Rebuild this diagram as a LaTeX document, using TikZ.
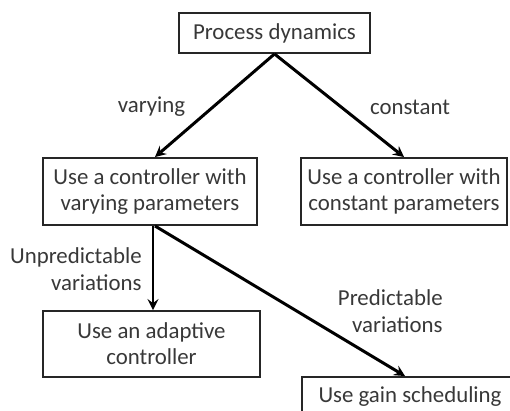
\documentclass[tikz,border=0pt]{standalone}
\usepackage{fontspec}
\setmainfont{Carlito}
\definecolor{txtgray}{HTML}{383838}

\begin{document}
\begin{tikzpicture}[
    box/.style={draw=black!85, line width=1.1pt, text=txtgray, align=center,
        inner sep=0pt, font=\fontsize{13}{14.8}\selectfont},
    lbl/.style={text=txtgray, inner sep=0pt, font=\fontsize{13}{15.5}\selectfont},
    arr/.style={line width=1.7pt, ->, >=stealth}
]
    \useasboundingbox (0,0) rectangle (10.2,-8.2);

    \node[box, minimum width=3.82cm, minimum height=0.8cm] (dyn) at (5.49,-0.66) {Process dynamics};

    \node[box, minimum width=4.28cm, minimum height=1.34cm] (vary) at (3.0,-3.83) {Use a controller with\\varying parameters};
    \node[box, minimum width=4.12cm, minimum height=1.34cm] (const) at (8.08,-3.83) {Use a controller with\\constant parameters};

    \node[box, minimum width=4.34cm, minimum height=1.32cm] (adapt) at (3.03,-6.88) {Use an adaptive\\controller};
    \node[box, minimum width=4.32cm, minimum height=0.8cm] (gain) at (8.2,-7.94) {Use gain scheduling};

    \node[lbl] (lvary) at (3.03,-2.14) {varying};
    \node[lbl] (lconst) at (8.2,-2.14) {constant};
    \node[lbl, align=right, anchor=east] (lunpred) at (2.84,-5.38) {Unpredictable\\variations};
    \node[lbl, align=right, anchor=east] (lpred) at (8.86,-6.23) {Predictable\\variations};

    \draw[arr] (dyn.south) -- ([xshift=0.1cm]vary.north);
    \draw[arr] (dyn.south) -- (const.north);

    \draw[arr] ([xshift=0.06cm]vary.south) -- ([xshift=0.06cm]vary.south |- adapt.north);
    \draw[arr] ([xshift=0.1cm]vary.south) -- ([xshift=-0.1cm]gain.north);
\end{tikzpicture}
\end{document}
